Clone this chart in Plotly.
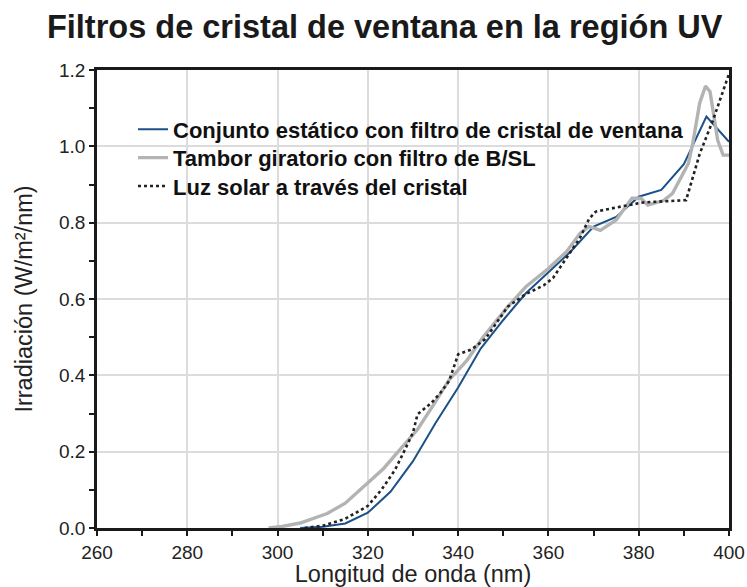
import plotly.graph_objects as go

# Conjunto estático con filtro de cristal de ventana
blue_x = [305, 310, 315, 320, 325, 330, 335, 340, 345, 350, 355, 360, 365, 370, 375, 380, 385, 390, 395, 400]
blue_y = [0.0, 0.003, 0.012, 0.04, 0.095, 0.175, 0.275, 0.368, 0.47, 0.545, 0.615, 0.67, 0.725, 0.79, 0.815, 0.868, 0.886, 0.953, 1.078, 1.012]

# Tambor giratorio con filtro de B/SL
gray_x = [298, 301, 305, 311, 315, 320, 323.5, 327, 331, 334.5, 338, 342, 345.5, 351, 355, 360, 364, 367, 369,
          371.5, 375, 378.5, 380.5, 382, 385.5, 387.5, 391, 392, 393.5, 394.8, 395.8, 397.5, 398.7, 400]
gray_y = [0.0, 0.004, 0.013, 0.038, 0.065, 0.118, 0.156, 0.204, 0.258, 0.322, 0.388, 0.44, 0.5, 0.58, 0.632, 0.68,
          0.724, 0.772, 0.79, 0.78, 0.807, 0.864, 0.864, 0.846, 0.858, 0.877, 0.955, 1.009, 1.113, 1.158, 1.143,
          1.016, 0.977, 0.977]

# Luz solar a través del cristal
dot_x = [306, 310, 315, 320, 323, 326, 328, 330, 331, 334, 336, 338, 340, 343, 346, 351, 355, 359, 361, 363, 367,
         369, 370.5, 376, 381, 390.5, 393.5, 396.5, 400]
dot_y = [0.0, 0.006, 0.024, 0.058, 0.10, 0.152, 0.2, 0.25, 0.298, 0.327, 0.353, 0.385, 0.455, 0.468, 0.495, 0.58,
         0.613, 0.636, 0.655, 0.69, 0.76, 0.81, 0.829, 0.842, 0.853, 0.859, 0.98, 1.07, 1.19]

x_ticks = [260, 280, 300, 320, 340, 360, 380, 400]
y_ticks = [0.0, 0.2, 0.4, 0.6, 0.8, 1.0, 1.2]

series_names = ["Conjunto estático con filtro de cristal de ventana",
                "Tambor giratorio con filtro de B/SL",
                "Luz solar a través del cristal"]

fig = go.Figure()
fig.add_trace(go.Scatter(x=blue_x, y=blue_y, mode="lines", legend="legend",
                         name="<b>" + series_names[0] + "</b>",
                         line=dict(color="#1b5088", width=2)))
fig.add_trace(go.Scatter(x=gray_x, y=gray_y, mode="lines", legend="legend2",
                         name="<b>" + series_names[1] + "</b>",
                         line=dict(color="#b3b3b3", width=3.4)))
fig.add_trace(go.Scatter(x=dot_x, y=dot_y, mode="lines", legend="legend3",
                         name="<b>" + series_names[2] + "</b>",
                         line=dict(color="#222222", width=2.6, dash="dot")))

font = "Liberation Sans, Arial, Helvetica, sans-serif"


def leg(ypos):
    return dict(x=0.057, y=ypos, xanchor="left", yanchor="top",
                bgcolor="rgba(0,0,0,0)", font=dict(size=22, color="#111111"),
                itemwidth=30)


fig.update_layout(
    width=747, height=587,
    margin=dict(l=97, r=18, t=70, b=59, autoexpand=False),
    paper_bgcolor="white", plot_bgcolor="white",
    font=dict(family=font, color="#1a1a1a"),
    title=dict(text="<b>Filtros de cristal de ventana en la región UV</b>",
               x=0.515, xanchor="center", y=0.954, yanchor="middle",
               font=dict(size=32.5, color="#1a1a1a")),
    showlegend=True,
    legend=leg(0.916),
    legend2=leg(0.854),
    legend3=leg(0.792),
)
fig.update_xaxes(
    range=[260, 400], tickvals=x_ticks, ticktext=[str(v) for v in x_ticks],
    showgrid=True, gridcolor="#dcdcdc", gridwidth=2,
    showline=True, linecolor="#1a1a1a", linewidth=2.5, mirror=True,
    ticks="outside", ticklen=5, tickwidth=2, tickcolor="#1a1a1a",
    minor=dict(dtick=10, tick0=260, ticks="outside", ticklen=5, tickwidth=2, tickcolor="#1a1a1a", showgrid=False),
    tickfont=dict(size=19, color="#222222"), zeroline=False, automargin=False,
    title=dict(text="Longitud de onda (nm)", font=dict(size=23.5, color="#222222"), standoff=9),
)
fig.update_yaxes(
    range=[0, 1.2], tickvals=y_ticks, ticktext=["%.1f" % v for v in y_ticks],
    showgrid=True, gridcolor="#dcdcdc", gridwidth=2,
    showline=True, linecolor="#1a1a1a", linewidth=2.5, mirror=True,
    ticks="outside", ticklen=5, tickwidth=2, tickcolor="#1a1a1a",
    minor=dict(dtick=0.1, tick0=0, ticks="outside", ticklen=5, tickwidth=2, tickcolor="#1a1a1a", showgrid=False),
    tickfont=dict(size=19, color="#222222"), zeroline=False, automargin=False,
    title=dict(text="Irradiación (W/m²/nm)", font=dict(size=23.5, color="#222222"), standoff=20),
)
fig.write_html("out.html", config={"displayModeBar": False},
               post_script="document.body.style.margin='0px';")
